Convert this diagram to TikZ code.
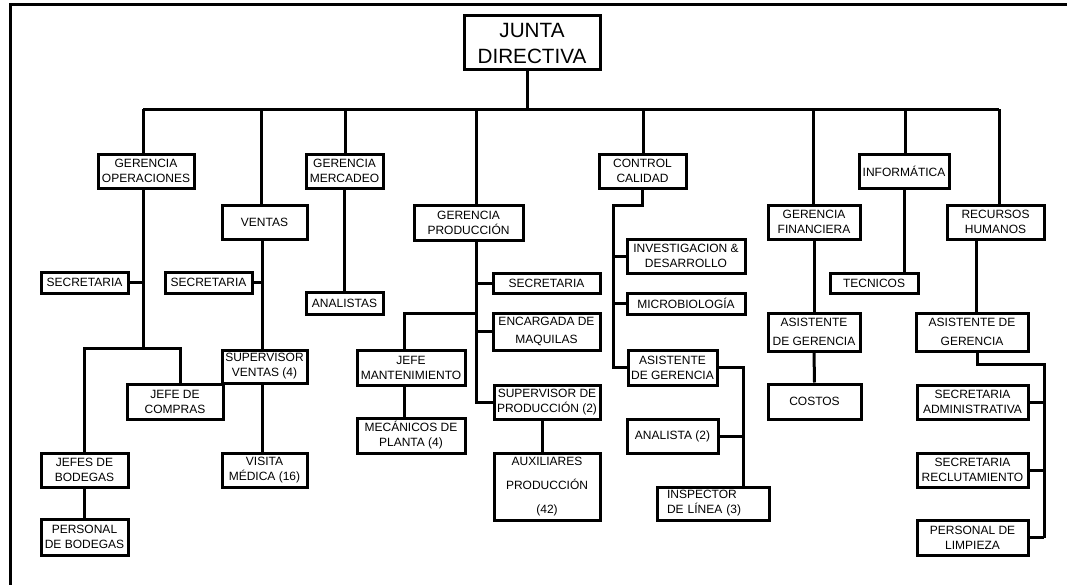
\documentclass[tikz,border=0pt]{standalone}
\usepackage{fontspec}
\setmainfont{Liberation Sans}
% one unit = one pixel of the chart grid
\newdimen\ux
\ux=0.75pt
\tikzset{
  unitbox/.style={draw, line width=2.25pt, fill=white, inner sep=0pt, align=center,
                  font=\fontsize{9}{11.25}\selectfont},
  link/.style={line width=2.25pt, line join=miter},
}
% \orgbox[options]{name}{x1}{y1}{x2}{y2}{text}
\newcommand\orgbox[7][]{%
  \node[unitbox, minimum width={(#5-#3)*0.75pt}, minimum height={(#6-#4)*0.75pt}, #1]
    (#2) at ({(#3+#5)/2},{(#4+#6)/2}) {#7};}
\begin{document}
\begin{tikzpicture}[x=0.75pt, y=-0.75pt]
\useasboundingbox (0,0) rectangle (1067,585);
% outer frame
\draw[link] (1067,5) -- (10,5) -- (10,585);

% boxes
\orgbox[font=\fontsize{15.5}{19.5}\selectfont]{jd}{464}{16}{600}{70}{JUNTA\\DIRECTIVA}
\orgbox{gop}{98}{154}{194}{188}{GERENCIA\\OPERACIONES}
\orgbox{gmer}{306}{154}{383}{188}{GERENCIA\\MERCADEO}
\orgbox{cc}{599}{154}{686}{188}{CONTROL\\CALIDAD}
\orgbox{inf}{859}{154}{949}{188}{INFORMÁTICA}
\orgbox{ven}{222}{205}{307}{239}{VENTAS}
\orgbox{gprod}{414}{205}{523}{240}{GERENCIA\\PRODUCCIÓN}
\orgbox{gfin}{768}{205}{860}{239}{GERENCIA\\FINANCIERA}
\orgbox{rh}{947}{205}{1044}{239}{RECURSOS\\HUMANOS}
\orgbox{inv}{627}{239}{745}{273}{INVESTIGACION \&\\DESARROLLO}
\orgbox{sec1}{41}{272}{128}{293}{SECRETARIA}
\orgbox{sec2}{165}{272}{252}{293}{SECRETARIA}
\orgbox{sec3}{493}{273}{600}{293}{SECRETARIA}
\orgbox{tec}{830}{273}{918}{293}{TECNICOS}
\orgbox{anal}{306}{292}{383}{314}{ANALISTAS}
\orgbox{micro}{627}{293}{745}{314}{MICROBIOLOGÍA}
\orgbox{enc}{493}{313}{600}{350}{ENCARGADA DE\\[2.25pt]MAQUILAS}
\orgbox{afin}{768}{313}{860}{351}{ASISTENTE\\[3pt]DE GERENCIA}
\orgbox{arh}{916}{313}{1028}{351}{ASISTENTE DE\\[3pt]GERENCIA}
\orgbox{supv}{222}{350}{307}{383}{SUPERVISOR\\VENTAS (4)}
\orgbox{jman}{357}{350}{465}{385}{JEFE\\MANTENIMIENTO}
\orgbox{acc}{628}{350}{717}{385}{ASISTENTE\\DE GERENCIA}
\orgbox{jcom}{127}{384}{223}{419}{JEFE DE\\COMPRAS}
\orgbox{supp}{494}{385}{600}{419}{SUPERVISOR DE\\PRODUCCIÓN (2)}
\orgbox{costos}{768}{384}{861}{419}{COSTOS}
\orgbox{sadm}{917}{385}{1028}{419}{SECRETARIA\\ADMINISTRATIVA}
\orgbox{mec}{357}{418}{465}{453}{MECÁNICOS DE\\PLANTA (4)}
\orgbox{ana2}{627}{419}{718}{453}{ANALISTA (2)}
\orgbox{jbod}{41}{453}{128}{487}{JEFES DE\\BODEGAS}
\orgbox{vis}{222}{453}{307}{487}{VISITA\\MÉDICA (16)}
\orgbox{srec}{917}{453}{1028}{487}{SECRETARIA\\RECLUTAMIENTO}
\orgbox{aux}{494}{453}{600}{520}{AUXILIARES\\[6.75pt]PRODUCCIÓN\\[6.75pt](42)}
\orgbox[text width={92*0.75pt}, align=left]{insp}{657}{487}{769}{520}{INSPECTOR\\DE LÍNEA (3)}
\orgbox{pbod}{41}{519}{128}{555}{PERSONAL\\DE BODEGAS}
\orgbox{plim}{917}{520}{1028}{555}{PERSONAL DE\\LIMPIEZA}

% main bus under the board
\coordinate (bL) at (143,109);
\coordinate (bR) at (999,109);
\draw[link] ([xshift=-5\ux]jd.south) -- ([xshift=-5\ux]jd.south |- bL);
\draw[link] (bL) -- (bR);
\draw[link] (bL) -- (bL |- gop.north);
\draw[link] (bR) -- (bR |- rh.north);
\foreach \x/\n in {261/ven,345/gmer,476/gprod,643/cc,813/gfin,905/inf}{
  \coordinate (t\n) at (\x,109);
  \draw[link] (t\n) -- (t\n |- \n.north);
}

% operaciones
\coordinate (gj) at (143,348);
\draw[link] (gj |- gop.south) -- (gj);
\draw[link] (jbod.north) |- (gj) -| ([xshift=5\ux]jcom.north);
\draw[link] (sec1.east) -- (sec1.east -| gj);
\draw[link] (jbod.south) -- (pbod.north);

% ventas
\coordinate (vc) at (262,239);
\draw[link] (vc) -- (vc |- supv.north);
\draw[link] (sec2.east) -- (sec2.east -| vc);
\draw[link] (vc |- supv.south) -- (vc |- vis.north);

% mercadeo
\draw[link] (gmer.south) -- (anal.north);

% produccion
\coordinate (pc) at (476,240);
\draw[link] (pc) |- (supp.west);
\draw[link] (sec3.west) -- (sec3.west -| pc);
\draw[link] (enc.west) -- (enc.west -| pc);
\coordinate (mj) at (404,313);
\draw[link] (mj -| pc) -- (mj) -- (mj |- jman.north);
\draw[link] (mj |- jman.south) -- (mj |- mec.north);
\draw[link] ([xshift=-5\ux]supp.south) -- ([xshift=-5\ux]aux.north);

% control de calidad
\coordinate (cj) at (613,205);
\draw[link] (cc.south) |- (cj) |- (acc.west);
\draw[link] (inv.west) -- (inv.west -| cj);
\draw[link] (micro.west) -- (micro.west -| cj);
\coordinate (ac) at (743,366);
\draw[link] (acc.east) -| (ac |- insp.north);
\draw[link] (ana2.east) -- (ana2.east -| ac);

% financiera
\draw[link] (gfin.south) -- (afin.north);
\draw[link] (afin.south) -- (costos.north);

% informatica
\draw[link] (inf.south) -- (inf.south |- tec.north);

% recursos humanos
\draw[link] ([xshift=-19.5\ux]rh.south) -- ([xshift=-19.5\ux]rh.south |- arh.north);
\coordinate (rc) at (1044,364);
\draw[link] ([xshift=5\ux]arh.south) |- (rc) -- (rc |- plim.east);
\draw[link] (sadm.east) -- (sadm.east -| rc);
\draw[link] (srec.east) -- (srec.east -| rc);
\draw[link] (plim.east) -- (plim.east -| rc);
\end{tikzpicture}
\end{document}
